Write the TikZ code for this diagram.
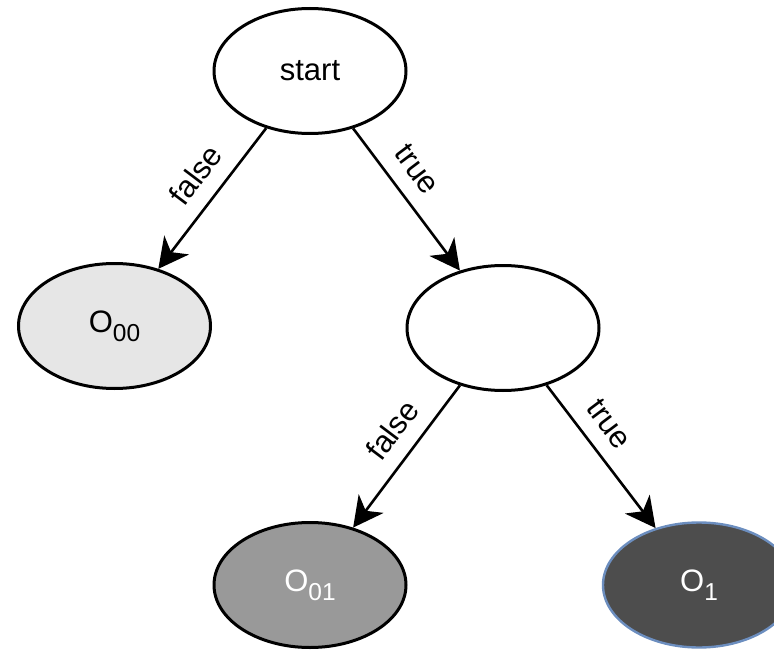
\documentclass[tikz,border=0pt]{standalone}
\usepackage{fontspec}
\setmainfont{Liberation Sans}
\usetikzlibrary{shapes.geometric, arrows.meta}

\definecolor{leafA}{HTML}{E6E6E6}
\definecolor{leafB}{HTML}{999999}
\definecolor{leafC}{HTML}{4D4D4D}
\definecolor{leafCedge}{HTML}{6C8EBF}

\newcommand{\subidx}[1]{\raisebox{-9pt}{\fontsize{24.5}{26}\selectfont #1}}

\begin{document}
\begin{tikzpicture}[x=1pt, y=-1pt,
  state/.style={ellipse, draw=black, line width=3pt, fill=white,
    minimum width=192pt, minimum height=125pt, inner sep=0pt,
    font=\fontsize{31}{36}\selectfont},
  branch/.style={line width=2.6pt, -{Stealth[length=30pt, width=31pt, inset=9pt]}},
  lab/.style={font=\fontsize{31}{36}\selectfont, inner xsep=0pt,
    inner ysep=15pt, anchor=south}]
\useasboundingbox (0,0) rectangle (774,650);

% decision nodes
\node[state] (start) at (310,71) {start};
\node[state] (mid) at (503,328) {};

% outcome nodes
\node[state, fill=leafA] (o00) at (114.5,326) {O\subidx{00}};
\node[state, fill=leafB, text=white] (o01) at (310,585) {O\subidx{01}};
\node[state, fill=leafC, draw=leafCedge, line width=2.4pt, text=white] (o1) at (699,585) {O\subidx{1}};

% branches
\draw[branch] (start) -- node[lab, pos=.45, rotate=53] {false} (o00);
\draw[branch] (start) -- node[lab, pos=.40, rotate=-53] {true} (mid);
\draw[branch] (mid) -- node[lab, pos=.43, rotate=53] {false} (o01);
\draw[branch] (mid) -- node[lab, pos=.38, rotate=-53] {true} (o1);
\end{tikzpicture}
\end{document}
